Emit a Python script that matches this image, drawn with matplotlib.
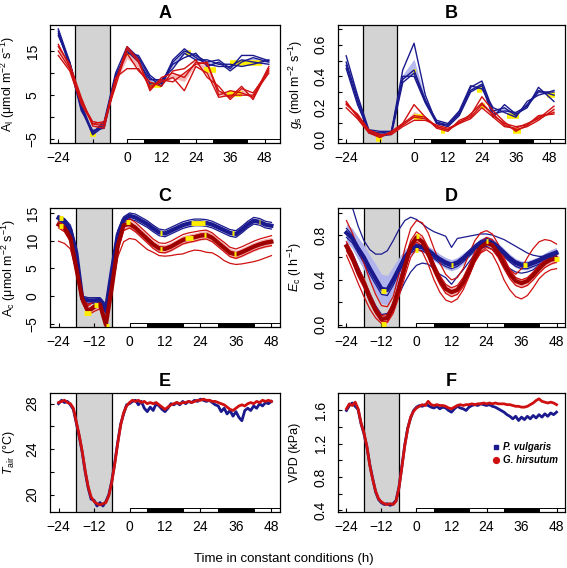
import numpy as np
import matplotlib
matplotlib.use('Agg')
import matplotlib.pyplot as plt
import matplotlib.transforms as mtransforms
from matplotlib.patches import Rectangle
from matplotlib.lines import Line2D

plt.rcParams['font.family'] = ['Liberation Sans', 'DejaVu Sans']
plt.rcParams['mathtext.fontset'] = 'custom'
plt.rcParams['mathtext.rm'] = 'Liberation Sans'
plt.rcParams['mathtext.it'] = 'Liberation Sans:italic'
plt.rcParams['mathtext.bf'] = 'Liberation Sans:bold'

# ---- common ----
night = [-18, -6]                       # shaded subjective night
period_start = [0, 6, 18, 30, 42]       # light/dark bar under each panel
period_end = [6, 18, 30, 42, 60]
period_dark = [False, True, False, True, False]

# ---- leaf gas exchange (A, B) ----
tL = [-24, -20, -16, -12, -8, -4, 0, 4, 8, 12, 16, 20, 24, 28, 32, 36, 40, 44, 49.5]

A_pv = [
    [20, 12.5, 3, -3.5, -1, 10, 16, 13.5, 9, 7, 12.5, 15, 14, 12.5, 13, 11, 14, 14, 12.8],
    [19, 11.5, 2, -4, -2, 9, 15, 12.5, 8.5, 8.5, 11, 14.5, 13, 13, 12, 12, 11.5, 12, 13],
    [19.5, 12, 1.5, -3, -2.5, 8.5, 15.5, 13, 7.5, 8, 12, 13.5, 14.5, 11.5, 12.5, 10.5, 12.5, 13.5, 12.5],
    [18.5, 12.5, 2.5, -3.8, -1.5, 9.5, 14.5, 14, 9.5, 7.5, 13, 15.5, 13.5, 12, 11.5, 11.5, 13, 12.5, 12],
]
A_gh = [
    [16.5, 11.5, 4, -1.5, -2, 8, 16, 13, 6, 9, 10, 9, 12.5, 12, 6, 4.5, 7, 4, 11],
    [15, 11, 3.5, -1, -1.5, 9, 11, 11, 7, 8, 9, 6, 11.5, 10, 4.5, 5, 5, 5, 10],
    [16, 12, 4.5, -2, -2.5, 8.5, 14.5, 10.5, 8, 7, 10.5, 11, 13, 9, 7, 4, 6.5, 5.5, 10.5],
    [14, 10.5, 3, -1.5, -1, 7, 15.5, 12.5, 6.5, 8.5, 8, 10, 12, 12.5, 5, 6, 5.5, 4.5, 11.5],
]
A_yellow = [(-13, -11, -3.9), (-0.5, 1, 14.6), (20.5, 22.5, 14.5), (36, 47, 12.3),
            (8, 12, 7.2), (27, 31, 10.6), (35, 40, 5.2)]

B_pv = [
    [0.49, 0.26, 0.05, 0.03, 0.04, 0.38, 0.44, 0.25, 0.11, 0.09, 0.16, 0.33, 0.37, 0.18, 0.20, 0.15, 0.22, 0.31, 0.28],
    [0.53, 0.28, 0.06, 0.05, 0.05, 0.44, 0.61, 0.28, 0.10, 0.08, 0.15, 0.30, 0.34, 0.14, 0.22, 0.16, 0.20, 0.33, 0.24],
    [0.47, 0.24, 0.04, 0.02, 0.03, 0.36, 0.42, 0.24, 0.12, 0.10, 0.18, 0.34, 0.32, 0.20, 0.17, 0.14, 0.24, 0.28, 0.31],
    [0.45, 0.22, 0.05, 0.04, 0.05, 0.40, 0.40, 0.23, 0.10, 0.09, 0.17, 0.31, 0.35, 0.16, 0.18, 0.17, 0.21, 0.30, 0.30],
]
B_gh = [
    [0.23, 0.15, 0.05, 0.02, 0.04, 0.09, 0.14, 0.13, 0.08, 0.06, 0.11, 0.14, 0.22, 0.16, 0.09, 0.06, 0.08, 0.12, 0.19],
    [0.20, 0.13, 0.04, 0.01, 0.05, 0.10, 0.22, 0.14, 0.07, 0.05, 0.12, 0.15, 0.27, 0.18, 0.11, 0.05, 0.09, 0.14, 0.17],
    [0.22, 0.16, 0.06, 0.03, 0.03, 0.08, 0.12, 0.12, 0.09, 0.07, 0.10, 0.13, 0.20, 0.14, 0.08, 0.07, 0.10, 0.13, 0.21],
    [0.24, 0.14, 0.05, 0.02, 0.04, 0.10, 0.15, 0.14, 0.08, 0.06, 0.10, 0.16, 0.23, 0.15, 0.10, 0.08, 0.09, 0.15, 0.16],
]
B_yellow = [(-13.5, -11.5, 0.0), (-0.5, 0.8, 0.43), (22.4, 24.2, 0.31), (33, 37, 0.15), (47, 50, 0.28),
            (0, 3, 0.14), (9.5, 11, 0.05), (23.5, 25, 0.21), (35, 38, 0.055)]

# ---- canopy assimilation and transpiration (C, D) ----
tC = np.arange(-24, 49, 2)

C_pv_mean = [14.1, 13.5, 12.0, 7.8, -0.5, -0.8, -0.8, -0.7, -2.5, 4.5, 11.0, 13.8, 14.5, 14.2, 13.6, 13.0, 12.2,
             11.5, 11.3, 11.8, 12.3, 12.8, 13.1, 13.3, 13.3, 13.2, 12.9, 12.4, 11.9, 11.4, 11.2, 12.0, 12.9, 13.6,
             13.4, 12.9, 12.7]
C_pv_se = [0.5, 0.5, 0.6, 0.7, 0.6, 0.5, 0.5, 0.5, 0.6, 0.7, 0.6, 0.4, 0.4, 0.4, 0.4, 0.4, 0.4, 0.4, 0.4, 0.4,
           0.4, 0.4, 0.4, 0.4, 0.4, 0.4, 0.4, 0.4, 0.4, 0.4, 0.4, 0.4, 0.4, 0.4, 0.4, 0.4, 0.4]
C_pv = [
    [14.5, 14.0, 12.8, 8.8, 0.0, -0.3, -0.3, -0.3, -1.5, 5.5, 11.8, 14.3, 15.0, 14.8, 14.2, 13.6, 12.8, 12.1, 11.9,
     12.4, 12.9, 13.4, 13.7, 13.9, 13.9, 13.8, 13.5, 13.0, 12.5, 12.0, 11.8, 12.6, 13.5, 14.2, 14.0, 13.5, 13.3],
    [14.0, 13.4, 11.8, 7.5, -0.6, -1.0, -0.9, -0.8, -2.3, 4.2, 10.8, 13.7, 14.4, 14.1, 13.5, 12.9, 12.1, 11.4, 11.2,
     11.7, 12.2, 12.7, 13.0, 13.2, 13.2, 13.1, 12.8, 12.3, 11.8, 11.3, 11.1, 11.9, 12.8, 13.5, 13.3, 12.8, 12.6],
    [13.6, 13.0, 11.2, 6.8, -1.0, -1.4, -1.3, -1.2, -3.2, 3.6, 10.2, 13.2, 13.9, 13.6, 13.0, 12.4, 11.6, 10.9, 10.7,
     11.2, 11.7, 12.2, 12.5, 12.7, 12.7, 12.6, 12.3, 11.8, 11.3, 10.8, 10.6, 11.4, 12.3, 13.0, 12.8, 12.3, 12.1],
]
C_gh_mean = [12.9, 12.3, 10.5, 5.0, -0.5, -2.8, -2.0, -1.5, -5.2, 1.5, 9.0, 12.8, 13.0, 12.3, 11.3, 10.3, 9.3,
             8.6, 8.5, 8.9, 9.5, 10.1, 10.4, 10.6, 10.9, 11.0, 10.5, 9.6, 8.7, 7.8, 7.5, 7.9, 8.4, 8.9, 9.3, 9.6, 9.8]
C_gh_se = [0.6, 0.6, 0.7, 0.8, 0.7, 0.6, 0.6, 0.6, 0.6, 0.8, 0.9, 0.8, 0.8, 0.8, 0.8, 0.8, 0.8, 0.8, 0.8, 0.8,
           0.8, 0.8, 0.8, 0.8, 0.8, 0.8, 0.8, 0.8, 0.8, 0.8, 0.8, 0.8, 0.8, 0.8, 0.8, 0.8, 0.8]
C_gh = [
    [13.4, 12.8, 11.2, 5.8, 0.2, -1.8, -1.0, -0.6, -4.6, 2.4, 10.0, 13.3, 14.0, 13.3, 12.3, 11.3, 10.3, 9.6, 9.5,
     9.9, 10.5, 11.1, 11.4, 11.6, 11.8, 11.9, 11.4, 10.5, 9.7, 8.8, 8.5, 8.9, 9.4, 9.9, 10.3, 10.6, 10.9],
    [13.1, 12.5, 10.7, 5.3, -0.2, -2.4, -1.6, -1.2, -5.0, 1.9, 9.4, 12.8, 13.3, 12.6, 11.6, 10.6, 9.6, 8.9, 8.8,
     9.2, 9.8, 10.4, 10.7, 10.9, 11.2, 11.3, 10.8, 9.9, 9.0, 8.1, 7.8, 8.2, 8.7, 9.2, 9.6, 9.9, 10.1],
    [12.3, 11.6, 9.8, 4.2, -1.2, -3.4, -2.8, -2.3, -5.6, 0.8, 8.2, 11.8, 12.3, 11.6, 10.6, 9.6, 8.6, 7.9, 7.8,
     8.2, 8.8, 9.4, 9.7, 9.9, 10.2, 10.3, 9.8, 8.9, 8.0, 7.1, 6.8, 7.2, 7.7, 8.2, 8.6, 8.9, 9.1],
    [9.9, 9.5, 8.5, 4.5, -0.5, -1.5, -1.0, -1.0, -4.5, 1.0, 7.0, 9.8, 10.4, 10.2, 9.3, 8.4, 7.9, 7.3, 7.2,
     7.3, 7.5, 7.6, 8.0, 8.3, 8.2, 7.9, 7.8, 7.2, 6.4, 5.9, 5.7, 5.8, 6.0, 6.2, 6.5, 6.9, 7.3],
]
C_yellow = [(-23.8, -22.6, 14.1), (10.4, 11.0, 11.4), (20.9, 25.4, 13.2), (34.7, 35.3, 11.3), (43.7, 44.3, 13.3),
            (-23.8, -22.6, 12.7), (-15.3, -13.0, -3.1), (-11.9, -10.7, -1.6), (-7.9, -6.8, -5.4), (-1.1, 0.3, 13.4),
            (10.4, 11.0, 8.5), (18.6, 21.5, 10.5), (25.1, 25.7, 11.0), (35.3, 35.9, 7.5)]

D_pv_mean = [0.82, 0.77, 0.68, 0.60, 0.50, 0.41, 0.32, 0.31, 0.40, 0.50, 0.60, 0.67, 0.70, 0.69, 0.66, 0.62, 0.58,
             0.55, 0.53, 0.55, 0.59, 0.64, 0.69, 0.73, 0.75, 0.73, 0.69, 0.64, 0.59, 0.55, 0.53, 0.53, 0.55, 0.57,
             0.60, 0.62, 0.64]
D_pv_se = [0.08, 0.09, 0.10, 0.11, 0.12, 0.13, 0.13, 0.13, 0.12, 0.10, 0.07, 0.05, 0.04, 0.04, 0.04, 0.05, 0.05,
           0.05, 0.05, 0.05, 0.05, 0.04, 0.04, 0.04, 0.04, 0.04, 0.04, 0.04, 0.04, 0.04, 0.04, 0.04, 0.04, 0.04,
           0.04, 0.05, 0.05]
D_pv = [
    [1.20, 1.05, 0.88, 0.75, 0.67, 0.63, 0.63, 0.66, 0.75, 0.85, 0.93, 0.96, 0.94, 0.90, 0.86, 0.83, 0.81, 0.79,
     0.69, 0.77, 0.78, 0.79, 0.80, 0.81, 0.81, 0.80, 0.78, 0.76, 0.73, 0.70, 0.67, 0.64, 0.62, 0.61, 0.61, 0.62, 0.63],
    [0.72, 0.64, 0.52, 0.40, 0.28, 0.17, 0.09, 0.10, 0.17, 0.27, 0.38, 0.47, 0.53, 0.55, 0.54, 0.50, 0.45, 0.42,
     0.36, 0.43, 0.49, 0.56, 0.63, 0.68, 0.70, 0.67, 0.61, 0.55, 0.50, 0.47, 0.46, 0.47, 0.49, 0.53, 0.57, 0.60, 0.62],
    [0.86, 0.80, 0.70, 0.62, 0.52, 0.42, 0.33, 0.32, 0.41, 0.52, 0.62, 0.69, 0.72, 0.71, 0.68, 0.64, 0.60, 0.57,
     0.55, 0.57, 0.61, 0.66, 0.71, 0.75, 0.77, 0.75, 0.71, 0.66, 0.61, 0.57, 0.55, 0.55, 0.57, 0.59, 0.62, 0.64, 0.66],
    [0.78, 0.73, 0.64, 0.55, 0.45, 0.36, 0.27, 0.26, 0.35, 0.46, 0.57, 0.64, 0.67, 0.66, 0.63, 0.59, 0.55, 0.52,
     0.50, 0.52, 0.56, 0.61, 0.66, 0.70, 0.72, 0.70, 0.66, 0.61, 0.56, 0.52, 0.50, 0.50, 0.52, 0.54, 0.57, 0.59, 0.61],
]
D_gh_mean = [0.70, 0.60, 0.47, 0.37, 0.24, 0.13, 0.05, 0.06, 0.16, 0.33, 0.52, 0.70, 0.78, 0.74, 0.64, 0.51, 0.40,
             0.32, 0.29, 0.31, 0.38, 0.48, 0.60, 0.69, 0.73, 0.71, 0.64, 0.54, 0.45, 0.39, 0.37, 0.39, 0.44, 0.50,
             0.55, 0.58, 0.59]
D_gh_se = [0.05, 0.05, 0.05, 0.05, 0.05, 0.05, 0.05, 0.05, 0.05, 0.05, 0.05, 0.05, 0.04, 0.04, 0.04, 0.04, 0.04,
           0.04, 0.04, 0.04, 0.04, 0.04, 0.04, 0.04, 0.04, 0.04, 0.04, 0.04, 0.04, 0.04, 0.04, 0.04, 0.04, 0.04,
           0.04, 0.04, 0.04]
D_gh = [
    [0.93, 0.82, 0.68, 0.55, 0.40, 0.27, 0.17, 0.16, 0.25, 0.45, 0.68, 0.86, 0.93, 0.91, 0.82, 0.68, 0.55, 0.45,
     0.40, 0.42, 0.50, 0.63, 0.75, 0.82, 0.84, 0.81, 0.72, 0.60, 0.49, 0.45, 0.50, 0.60, 0.68, 0.74, 0.76, 0.75, 0.72],
    [0.62, 0.50, 0.37, 0.25, 0.14, 0.06, 0.01, 0.02, 0.10, 0.25, 0.43, 0.60, 0.68, 0.65, 0.54, 0.40, 0.29, 0.22,
     0.20, 0.23, 0.31, 0.43, 0.56, 0.64, 0.67, 0.63, 0.53, 0.40, 0.31, 0.25, 0.23, 0.26, 0.33, 0.41, 0.46, 0.49, 0.50],
    [0.74, 0.64, 0.51, 0.41, 0.28, 0.16, 0.08, 0.09, 0.20, 0.37, 0.57, 0.75, 0.83, 0.79, 0.69, 0.55, 0.44, 0.36,
     0.33, 0.35, 0.42, 0.53, 0.65, 0.74, 0.78, 0.76, 0.68, 0.58, 0.49, 0.42, 0.40, 0.42, 0.47, 0.53, 0.58, 0.61, 0.62],
    [0.66, 0.56, 0.43, 0.33, 0.20, 0.10, 0.03, 0.03, 0.12, 0.29, 0.48, 0.66, 0.74, 0.70, 0.60, 0.47, 0.36, 0.28,
     0.25, 0.27, 0.34, 0.44, 0.56, 0.65, 0.69, 0.67, 0.60, 0.50, 0.41, 0.35, 0.33, 0.35, 0.40, 0.46, 0.51, 0.54, 0.56],
]
D_yellow = [(-12.0, -10.6, 0.30), (-0.4, 0.4, 0.67), (11.7, 12.5, 0.53), (36.6, 38.0, 0.53), (47.0, 49.0, 0.59),
            (-12.0, -10.6, 0.01), (0.0, 0.7, 0.79), (23.7, 24.5, 0.75)]

# ---- chamber air (E, F), hourly ----
tE = np.arange(-24, 49, 1)
T_gh = [28.1, 28.2, 28.3, 28.1, 28.0, 27.6, 26.4, 25.2, 23.8, 22.1, 20.7, 19.8, 19.4, 19.2, 19.1, 19.2, 19.3, 19.9,
        21.1, 22.7, 24.5, 26.1, 27.2, 27.8,
        28.1, 28.3, 28.2, 28.3, 28.1, 28.2, 28.0, 28.1, 28.0, 28.1, 27.9, 27.7, 27.5, 27.7, 27.9, 28.0, 28.1, 28.0,
        28.1, 28.1, 28.2, 28.1, 28.2, 28.3, 28.3, 28.4, 28.3, 28.3, 28.2, 28.2, 28.1, 28.0, 27.9, 27.7, 27.5, 27.4,
        27.6, 27.8, 27.9, 27.8, 28.0, 28.1, 28.0, 28.2, 28.1, 28.3, 28.2, 28.3, 28.2]
T_pv = [28.0, 28.3, 28.1, 28.2, 27.9, 27.5, 26.3, 25.1, 23.7, 22.0, 20.6, 19.6, 19.5, 19.0, 19.3, 19.0, 19.4, 20.0,
        21.2, 22.8, 24.6, 26.2, 27.1, 27.9,
        28.0, 28.2, 28.3, 27.9, 28.2, 27.6, 27.3, 27.7, 27.4, 28.0, 27.8, 27.5, 27.3, 27.6, 28.0, 27.9, 28.1, 27.9,
        28.2, 28.0, 28.2, 28.1, 28.3, 28.2, 28.4, 28.3, 28.2, 28.3, 28.1, 27.9, 27.8, 27.3, 27.6, 27.1, 27.4, 26.9,
        27.3, 26.8, 26.5, 27.4, 27.6, 27.4, 27.8, 27.6, 28.0, 27.8, 28.1, 28.0, 28.2]
VPD_gh = [1.62, 1.68, 1.66, 1.70, 1.62, 1.45, 1.33, 1.17, 0.94, 0.77, 0.63, 0.54, 0.50, 0.48, 0.47, 0.48, 0.47,
          0.51, 0.67, 0.92, 1.18, 1.38, 1.52, 1.59,
          1.63, 1.65, 1.67, 1.66, 1.71, 1.67, 1.66, 1.67, 1.66, 1.66, 1.65, 1.63, 1.62, 1.64, 1.66, 1.67, 1.66,
          1.67, 1.67, 1.68, 1.67, 1.68, 1.68, 1.69, 1.68, 1.69, 1.68, 1.69, 1.68, 1.68, 1.68, 1.67, 1.67, 1.66,
          1.65, 1.65, 1.64, 1.64, 1.65, 1.67, 1.69, 1.72, 1.74, 1.71, 1.70, 1.69, 1.70, 1.69, 1.67]
VPD_pv = [1.60, 1.66, 1.69, 1.65, 1.61, 1.44, 1.32, 1.16, 0.95, 0.78, 0.62, 0.53, 0.49, 0.47, 0.48, 0.46, 0.48,
          0.52, 0.68, 0.93, 1.19, 1.39, 1.51, 1.60,
          1.64, 1.66, 1.65, 1.67, 1.66, 1.64, 1.63, 1.65, 1.62, 1.64, 1.63, 1.60, 1.58, 1.62, 1.65, 1.63, 1.62,
          1.60, 1.64, 1.66, 1.67, 1.66, 1.68, 1.67, 1.66, 1.67, 1.65, 1.64, 1.62, 1.60, 1.58, 1.55, 1.53, 1.50,
          1.53, 1.48, 1.52, 1.49, 1.53, 1.50, 1.54, 1.51, 1.55, 1.52, 1.56, 1.53, 1.57, 1.55, 1.58]

BLUE = '#1a1a8e'
RED = '#cf1010'
DARKRED = '#9e0000'
BLUE_BAND = '#b0b3ec'
RED_BAND = '#f6b0b0'
YELLOW = '#ffee00'

xticks = [-24, -12, 0, 12, 24, 36, 48]


def frame(ax, ylim, yticks, ylabels, ylabel, xright, show_m12=True, label_x=-0.14):
    ax.axvspan(night[0], night[1], color='#d3d3d3', zorder=0, lw=0)
    for x in night:
        ax.axvline(x, color='black', lw=0.9, zorder=1)
    ax.set_xlim(-26.9, xright)
    ax.set_ylim(*ylim)
    ax.set_xticks(xticks)
    ax.set_xticklabels(['\u221224', '\u221212' if show_m12 else '', '0', '12', '24', '36', '48'])
    ax.set_yticks(yticks)
    ax.set_yticklabels(ylabels, rotation=90, va='center')
    ax.tick_params(direction='in', length=3.2, width=0.8, labelsize=10)
    ax.tick_params(axis='y', pad=7.5)
    ax.tick_params(axis='x', pad=5.5)
    for sp in ax.spines.values():
        sp.set_linewidth(0.9)
    ax.set_axisbelow(False)
    trans = mtransforms.blended_transform_factory(ax.transData, ax.transAxes)
    for s, e, dark in zip(period_start, period_end, period_dark):
        e = min(e, xright)
        ax.add_patch(Rectangle((s, 0), e - s, 0.037, transform=trans, zorder=2.2,
                               facecolor='black' if dark else 'white', edgecolor='black', lw=0.7))
    ax.set_ylabel(ylabel, fontsize=9)
    ax.yaxis.set_label_coords(label_x, 0.5)


def yellow_marks(ax, marks, lw=3.5, z=3):
    for t0, t1, y in marks:
        ax.plot([t0, t1], [y, y], color=YELLOW, lw=lw, solid_capstyle='butt', zorder=z)


def leaf_panel(ax, reps_pv, reps_gh, marks):
    for reps, band in ((reps_pv, BLUE_BAND), (reps_gh, RED_BAND)):
        arr = np.array(reps)
        m = arr.mean(axis=0)
        se = arr.std(axis=0) / np.sqrt(len(arr))
        ax.fill_between(tL, m - se, m + se, color=band, lw=0, zorder=1.5, alpha=0.9)
    yellow_marks(ax, marks, lw=4, z=1.8)
    for r in reps_pv:
        ax.plot(tL, r, color=BLUE, lw=1.0, zorder=2)
    for r in reps_gh:
        ax.plot(tL, r, color=RED, lw=1.0, zorder=2.05)


def canopy_panel(ax, pv_mean, pv_se, pv, gh_mean, gh_se, gh, marks):
    pm, ps = np.array(pv_mean), np.array(pv_se)
    gm, gs = np.array(gh_mean), np.array(gh_se)
    ax.fill_between(tC, pm - ps, pm + ps, color=BLUE_BAND, lw=0, zorder=1.5)
    ax.fill_between(tC, gm - gs, gm + gs, color=RED_BAND, lw=0, zorder=1.5)
    for r in pv:
        ax.plot(tC, r, color=BLUE, lw=0.9, zorder=2)
    for r in gh:
        ax.plot(tC, r, color=RED, lw=0.9, zorder=2)
    ax.plot(tC, pv_mean, color=BLUE, lw=3, zorder=2.3)
    ax.plot(tC, gh_mean, color=DARKRED, lw=3, zorder=2.3)
    yellow_marks(ax, marks, lw=3.5, z=3)


fig = plt.figure(figsize=(5.67, 5.68), dpi=100)
W, H = 567.0, 568.0
def box(l, r, t, b):
    return [l / W, 1 - b / H, (r - l) / W, (b - t) / H]

axA = fig.add_axes(box(50, 280, 25, 143))
axB = fig.add_axes(box(338, 565, 25, 143))
axC = fig.add_axes(box(50, 280, 208, 327))
axD = fig.add_axes(box(338, 565, 208, 327))
axE = fig.add_axes(box(50, 280, 393, 512))
axF = fig.add_axes(box(338, 565, 393, 512))

# A
leaf_panel(axA, A_pv, A_gh, A_yellow)
frame(axA, (-5.85, 20.9), [-5, 0, 5, 10, 15, 20], ['\u22125', '', '5', '', '15', ''],
      r'A$_\mathregular{l}$ (μmol m$^\mathregular{-2}$ s$^\mathregular{-1}$)', 53.4, show_m12=False,
      label_x=-0.143)
# B
leaf_panel(axB, B_pv, B_gh, B_yellow)
frame(axB, (-0.024, 0.726), [0, 0.1, 0.2, 0.3, 0.4, 0.5, 0.6, 0.7], ['0.0', '', '0.2', '', '0.4', '', '0.6', ''],
      r'$\mathit{g}_\mathregular{s}$ (mol m$^\mathregular{-2}$ s$^\mathregular{-1}$)', 53.4, show_m12=False,
      label_x=-0.145)
# C
canopy_panel(axC, C_pv_mean, C_pv_se, C_pv, C_gh_mean, C_gh_se, C_gh, C_yellow)
frame(axC, (-5.6, 15.9), [-5, 0, 5, 10, 15], ['\u22125', '0', '5', '10', '15'],
      r'A$_\mathregular{c}$ (μmol m$^\mathregular{-2}$ s$^\mathregular{-1}$)', 50.9, label_x=-0.139)
# D
canopy_panel(axD, D_pv_mean, D_pv_se, D_pv, D_gh_mean, D_gh_se, D_gh, D_yellow)
frame(axD, (-0.021, 1.042), [0, 0.2, 0.4, 0.6, 0.8, 1.0], ['0.0', '', '0.4', '', '0.8', ''],
      r'$\mathit{E}_\mathregular{c}$ (l h$^\mathregular{-1}$)', 50.9, label_x=-0.15)
# E
axE.plot(tE, T_pv, color=BLUE, lw=2.0, zorder=2)
axE.plot(tE, T_gh, color=RED, lw=2.0, zorder=2.05)
frame(axE, (18.47, 28.94), [20, 22, 24, 26, 28], ['20', '', '24', '', '28'],
      r'$\mathit{T}_\mathregular{air}$ (°C)', 50.9, label_x=-0.143)
# F
axF.plot(tE, VPD_pv, color=BLUE, lw=2.0, zorder=2)
axF.plot(tE, VPD_gh, color=RED, lw=2.0, zorder=2.05)
frame(axF, (0.38, 1.81), [0.4, 0.6, 0.8, 1.0, 1.2, 1.4, 1.6], ['0.4', '', '0.8', '', '1.2', '', '1.6'],
      'VPD (kPa)', 50.9, label_x=-0.165)
handles = [Line2D([], [], ls='', marker='s', ms=3.5, color=BLUE),
           Line2D([], [], ls='', marker='o', ms=4.2, color=RED)]
axF.legend(handles, ['P. vulgaris', 'G. hirsutum'], loc='center left', bbox_to_anchor=(0.685, 0.49),
           frameon=False, handlelength=0.6, handletextpad=0.35, labelspacing=0.3, borderpad=0,
           borderaxespad=0, prop={'size': 7, 'weight': 'bold', 'style': 'italic'})

for ax, letter in zip([axA, axB, axC, axD, axE, axF], 'ABCDEF'):
    ax.set_title(letter, fontsize=13, fontweight='bold', pad=5)

fig.text(0.5, 0.015, 'Time in constant conditions (h)', ha='center', va='center', fontsize=9.5)

fig.savefig('out.png', dpi=100)
